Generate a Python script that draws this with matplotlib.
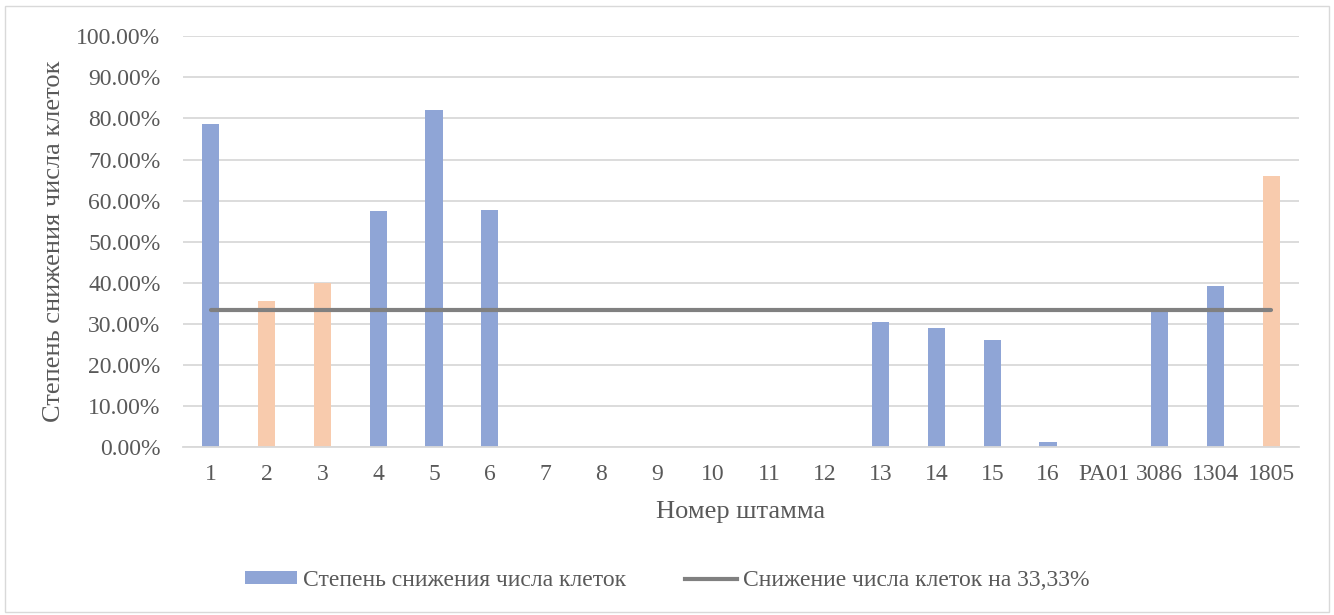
import matplotlib.pyplot as plt
from matplotlib.patches import Patch, Rectangle
from matplotlib.lines import Line2D
from matplotlib.ticker import FuncFormatter

# strain numbers and reduction of cell count (%)
strains = ["1", "2", "3", "4", "5", "6", "7", "8", "9", "10", "11", "12",
           "13", "14", "15", "16", "PA01", "3086", "1304", "1805"]
reduction = [78.6, 35.5, 40.0, 57.5, 82.0, 57.7, 0, 0, 0, 0, 0, 0,
             30.4, 29.0, 26.0, 1.3, 0, 33.1, 39.2, 66.0]
highlight = ["2", "3", "1805"]
threshold = 33.33

blue = "#8FA5D6"
peach = "#F8CBAD"
txt = "#595959"

plt.rcParams['font.family'] = ['Liberation Serif', 'DejaVu Serif']

fig = plt.figure(figsize=(13.34, 6.15), dpi=100)
ax = fig.add_axes([0.137, 0.273, 0.837, 0.668])

x = list(range(len(strains)))
cols = [peach if s in highlight else blue for s in strains]
ax.bar(x, reduction, width=0.31, color=cols, zorder=2)
ax.plot([x[0], x[-1]], [threshold, threshold], color="#808080", lw=3,
        solid_capstyle="round", zorder=3)

ax.set_ylim(0, 100)
ax.set_xlim(-0.5, len(strains) - 0.5)
ax.set_yticks(range(0, 101, 10))
ax.yaxis.set_major_formatter(FuncFormatter(lambda v, p: f"{v:.2f}%"))
ax.set_xticks(x)
ax.set_xticklabels(strains)
ax.tick_params(axis="both", length=0, labelsize=17, colors=txt)
ax.tick_params(axis="y", pad=16)
ax.tick_params(axis="x", pad=12)
ax.grid(axis="y", color="#D9D9D9", lw=1.3, zorder=0)
for s in ["top", "right", "left"]:
    ax.spines[s].set_visible(False)
ax.spines["bottom"].set_color("#D9D9D9")
ax.spines["bottom"].set_linewidth(1.3)

ax.set_ylabel("Степень снижения числа клеток", fontsize=19, color=txt, labelpad=8)
ax.set_xlabel("Номер штамма", fontsize=19, color=txt, labelpad=12)

handles = [Patch(facecolor=blue, edgecolor="none"),
           Line2D([0], [0], color="#808080", lw=3)]
labels = ["Степень снижения числа клеток", "Снижение числа клеток на 33,33%"]
fig.legend(handles, labels, loc="center", bbox_to_anchor=(0.5, 0.056), ncol=2,
           frameon=False, fontsize=17, labelcolor=txt, columnspacing=2.5,
           handlelength=2.2, handleheight=0.5, handletextpad=0.25)

fig.patches.append(Rectangle((0.004, 0.005), 0.992, 0.985, transform=fig.transFigure,
                             fill=False, edgecolor="#D9D9D9", lw=1))

fig.savefig("out.png", dpi=100)
